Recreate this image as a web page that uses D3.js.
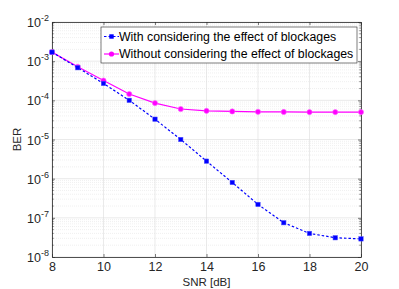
<!DOCTYPE html>
<html>
<head>
<meta charset="utf-8" />
<style>
  body { margin: 0; background: #fff; }
  svg { display: block; font-family: "Liberation Sans", Arial, sans-serif; }
</style>
</head>
<body>
<div id="chart"></div>
<script src="https://cdnjs.cloudflare.com/ajax/libs/d3/7.8.5/d3.min.js"></script>
<script>
  const snr = [8, 9, 10, 11, 12, 13, 14, 15, 16, 17, 18, 19, 20];
  const berBlockage = [1.7e-3, 6.8e-4, 2.7e-4, 1.0e-4, 3.3e-5, 1.0e-5, 2.8e-6, 8.0e-7, 2.2e-7, 7.5e-8, 4.0e-8, 3.1e-8, 2.9e-8];
  const berNoBlockage = [1.7e-3, 7.2e-4, 3.2e-4, 1.45e-4, 8.5e-5, 6.0e-5, 5.4e-5, 5.2e-5, 5.1e-5, 5.05e-5, 5.0e-5, 5.0e-5, 5.0e-5];
  const xTicks = [8, 10, 12, 14, 16, 18, 20];
  const yExponents = [-8, -7, -6, -5, -4, -3, -2];
  const legendLabels = ["With considering the effect of blockages", "Without considering the effect of blockages"];

  const width = 399, height = 289;
  const m = { left: 52, right: 38, top: 22, bottom: 32 };

  const svg = d3.select("#chart").append("svg")
    .attr("width", width)
    .attr("height", height);

  const x = d3.scaleLinear().domain([8, 20]).range([m.left, width - m.right]);
  const y = d3.scaleLog().domain([1e-8, 1e-2]).range([height - m.bottom, m.top]);

  // minor grid (log)
  const minor = [];
  for (let e = -8; e < -2; e++) {
    for (let k = 2; k <= 9; k++) minor.push(k * Math.pow(10, e));
  }
  svg.append("g").selectAll("line")
    .data(minor)
    .join("line")
    .attr("x1", m.left).attr("x2", width - m.right)
    .attr("y1", d => y(d)).attr("y2", d => y(d))
    .attr("stroke", "#e6e6e6").attr("stroke-width", 0.6)
    .attr("stroke-dasharray", "1,1");

  // major grid
  svg.append("g").selectAll("line")
    .data(yExponents)
    .join("line")
    .attr("x1", m.left).attr("x2", width - m.right)
    .attr("y1", d => y(Math.pow(10, d))).attr("y2", d => y(Math.pow(10, d)))
    .attr("stroke", "#dcdcdc").attr("stroke-width", 0.6);
  svg.append("g").selectAll("line")
    .data(xTicks)
    .join("line")
    .attr("y1", m.top).attr("y2", height - m.bottom)
    .attr("x1", d => x(d)).attr("x2", d => x(d))
    .attr("stroke", "#dcdcdc").attr("stroke-width", 0.6);

  // axes box
  const axisColor = "#262626";
  const xAxis = svg.append("g")
    .attr("transform", `translate(0,${height - m.bottom})`)
    .call(d3.axisBottom(x).tickValues(xTicks).tickSizeInner(-3).tickSizeOuter(0).tickPadding(5));
  const xAxisTop = svg.append("g")
    .attr("transform", `translate(0,${m.top})`)
    .call(d3.axisTop(x).tickValues(xTicks).tickSizeInner(-3).tickSizeOuter(0).tickFormat(""));
  const yAxis = svg.append("g")
    .attr("transform", `translate(${m.left},0)`)
    .call(d3.axisLeft(y).tickValues(yExponents.map(e => Math.pow(10, e))).tickSizeInner(-3).tickSizeOuter(0).tickFormat(""));
  const yAxisR = svg.append("g")
    .attr("transform", `translate(${width - m.right},0)`)
    .call(d3.axisRight(y).tickValues(yExponents.map(e => Math.pow(10, e))).tickSizeInner(-3).tickSizeOuter(0).tickFormat(""));

  // minor ticks on y
  [m.left, width - m.right].forEach((xx, i) => {
    svg.append("g").selectAll("line")
      .data(minor)
      .join("line")
      .attr("x1", xx).attr("x2", i === 0 ? xx + 1.8 : xx - 1.8)
      .attr("y1", d => y(d)).attr("y2", d => y(d))
      .attr("stroke", axisColor).attr("stroke-width", 0.5);
  });

  [xAxis, xAxisTop, yAxis, yAxisR].forEach(g => {
    g.select(".domain").attr("stroke", axisColor).attr("stroke-width", 0.8);
    g.selectAll(".tick line").attr("stroke", axisColor).attr("stroke-width", 0.6);
  });
  xAxis.selectAll(".tick text")
    .attr("font-size", 12.5).attr("fill", axisColor)
    .attr("font-family", "Liberation Sans, Arial, sans-serif");

  // y tick labels 10^e
  const yl = svg.append("g").selectAll("text")
    .data(yExponents)
    .join("text")
    .attr("y", d => y(Math.pow(10, d)) + 5)
    .attr("font-size", 12.5)
    .attr("fill", axisColor);
  yl.append("tspan").text("10");
  yl.append("tspan").attr("dy", -6).attr("font-size", 9).text(d => d);
  yl.each(function() {
    const w = this.getBBox().width;
    d3.select(this).attr("x", m.left - 3 - w);
  });

  // axis labels
  svg.append("text")
    .attr("x", (m.left + width - m.right) / 2)
    .attr("y", height - 3)
    .attr("text-anchor", "middle")
    .attr("font-size", 11.5)
    .attr("fill", axisColor)
    .text("SNR [dB]");
  svg.append("text")
    .attr("transform", `translate(21,${(m.top + height - m.bottom) / 2}) rotate(-90)`)
    .attr("text-anchor", "middle")
    .attr("font-size", 11.5)
    .attr("fill", axisColor)
    .text("BER");

  // series
  const line = d3.line().x(d => x(d[0])).y(d => y(d[1]));
  const blue = "#0000ff", pink = "#ff00ff";
  const blueData = snr.map((s, i) => [s, berBlockage[i]]);
  const pinkData = snr.map((s, i) => [s, berNoBlockage[i]]);

  svg.append("path")
    .datum(pinkData)
    .attr("fill", "none").attr("stroke", pink).attr("stroke-width", 1.2)
    .attr("d", line);
  svg.append("g").selectAll("circle")
    .data(pinkData)
    .join("circle")
    .attr("cx", d => x(d[0])).attr("cy", d => y(d[1]))
    .attr("r", 2.6)
    .attr("fill", pink).attr("stroke", "#ff66ff").attr("stroke-width", 0.6);

  svg.append("path")
    .datum(blueData)
    .attr("fill", "none").attr("stroke", blue).attr("stroke-width", 1.2)
    .attr("stroke-dasharray", "2.5,2")
    .attr("d", line);
  svg.append("g").selectAll("rect")
    .data(blueData)
    .join("rect")
    .attr("x", d => x(d[0]) - 2.2).attr("y", d => y(d[1]) - 2.2)
    .attr("width", 4.4).attr("height", 4.4)
    .attr("fill", blue).attr("stroke", "#4d4dff").attr("stroke-width", 0.5);

  // legend
  const lg = svg.append("g");
  lg.append("rect")
    .attr("x", 101).attr("y", 27).attr("width", 256).attr("height", 36)
    .attr("fill", "#fff").attr("stroke", axisColor).attr("stroke-width", 0.6);
  legendLabels.forEach((lab, i) => {
    const yy = 36.5 + i * 17.5;
    lg.append("line")
      .attr("x1", 104).attr("x2", 119).attr("y1", yy).attr("y2", yy)
      .attr("stroke", i === 0 ? blue : pink).attr("stroke-width", 1.2)
      .attr("stroke-dasharray", i === 0 ? "2.5,2" : null);
    if (i === 0) {
      lg.append("rect").attr("x", 109.3).attr("y", yy - 2.2).attr("width", 4.4).attr("height", 4.4).attr("fill", blue);
    } else {
      lg.append("circle").attr("cx", 111.5).attr("cy", yy).attr("r", 2.6).attr("fill", pink);
    }
    lg.append("text")
      .attr("x", 119).attr("y", yy + 4.3)
      .attr("font-size", 12.3).attr("fill", "#000")
      .text(lab);
  });
</script>
</body>
</html>
